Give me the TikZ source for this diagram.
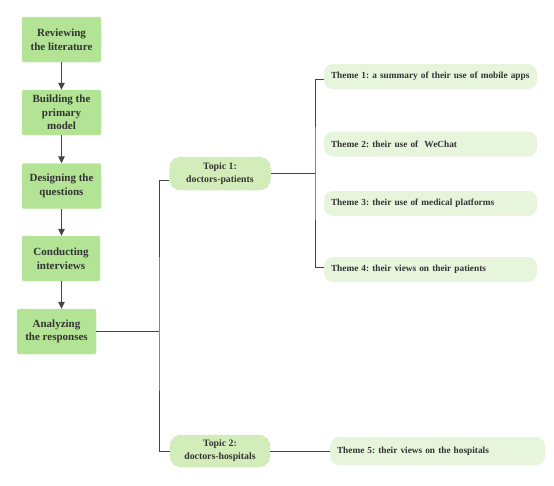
\documentclass[tikz,border=0pt]{standalone}
\usepackage{fontspec}
\setmainfont{Liberation Serif}
\usetikzlibrary{arrows.meta}
\definecolor{stepgreen}{HTML}{B3E495}
\definecolor{topicgreen}{HTML}{D2EDB9}
\definecolor{topicborder}{HTML}{BEE3A0}
\definecolor{themegreen}{HTML}{E7F5DC}
\definecolor{txt}{HTML}{333333}
\definecolor{ln}{HTML}{444444}
\tikzset{
  stepbox/.style={draw=stepgreen!90!white, fill=stepgreen, rounded corners=2pt, minimum width=79pt, minimum height=45pt, align=center, text=txt, font=\fontsize{11}{13.5}\selectfont\bfseries, inner sep=1pt},
  topicbox/.style={draw=topicborder, dashed, fill=topicgreen, rounded corners=11pt, minimum width=101pt, minimum height=33pt, align=center, text=txt, font=\fontsize{9.8}{13}\selectfont\bfseries, inner sep=1pt},
  themebox/.style={fill=themegreen, rounded corners=9pt, minimum width=213pt, minimum height=25pt, text=txt, font=\fontsize{9.3}{11}\selectfont\bfseries, inner sep=1pt, inner xsep=7pt, text width=199pt, align=left},
  link/.style={draw=ln, line width=0.9pt},
  flow/.style={draw=ln, line width=1pt, -{Triangle[length=7pt,width=6.5pt]}}
}
\begin{document}
\frenchspacing
\begin{tikzpicture}[x=1pt,y=-1pt]
\useasboundingbox (0,0) rectangle (554,485);
\fill[white] (0,0) rectangle (554,485);
\node[stepbox] (s1) at (61.5,39.5) {Reviewing\\the literature};
\node[stepbox] (s2) at (61.5,112.5) {Building the\\primary\\model};
\node[stepbox] (s3) at (61.5,186) {Designing the\\questions};
\node[stepbox, minimum width=78pt] (s4) at (61,258.5) {Conducting\\interviews};
\node[stepbox] (s5) at (56.5,331.5) {Analyzing\\the responses};
\draw[flow] (s1.south -| 61.5,0) -- (s2.north -| 61.5,0);
\draw[flow] (s2) -- (s3);
\draw[flow] (s3.south -| 61.5,0) -- (s4.north -| 61.5,0);
\draw[flow] (s4.south -| 61.5,0) -- (s5.north -| 61.5,0);

\node[topicbox] (t1) at (220,173.5) {Topic 1:\\doctors-patients};
\node[topicbox, minimum width=100pt, minimum height=32pt] (t2) at (220,451) {Topic 2:\\doctors-hospitals};

\node[themebox] (h1) at (430.5,76.5) {Theme 1: a summary of their use of mobile apps};
\node[themebox] (h2) at (430.5,144) {Theme 2: their use of\ \ WeChat};
\node[themebox] (h3) at (430.5,203.5) {Theme 3: their use of medical platforms};
\node[themebox] (h4) at (430.5,269.5) {Theme 4: their views on their patients};
\node[themebox, minimum width=215pt, minimum height=28pt, text width=201pt] (h5) at (437.5,451) {Theme 5: their views on the hospitals};

\coordinate (trunk) at (159,331.5);
\coordinate (hub) at (315,173.5);
\draw[link] (s5.east) -- (trunk);
\draw[link] ([yshift=-6.5pt]t1.west) -| (trunk) |- (t2.west);
\draw[link] (t1.east) -- (hub);
\draw[link] ([yshift=-2.5pt]h1.west) -| (hub) |- ([yshift=2.5pt]h4.west);
\draw[link] (t2.east) -- (h5.west);
\end{tikzpicture}
\end{document}
